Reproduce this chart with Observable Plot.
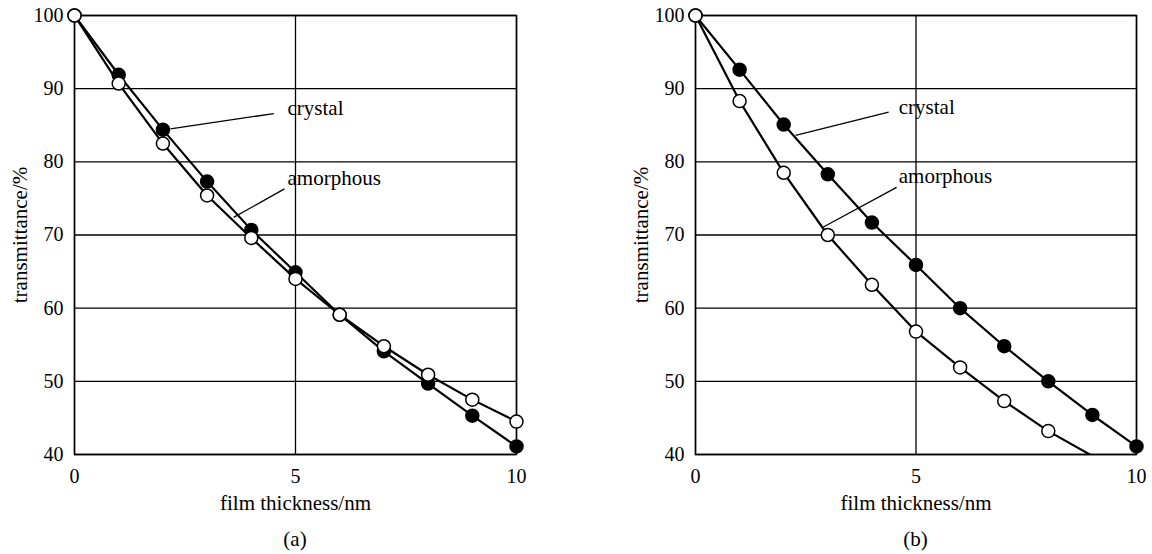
<!DOCTYPE html>
<html><head><meta charset="utf-8">
<script src="https://cdn.jsdelivr.net/npm/d3@7"></script>
<script src="https://cdn.jsdelivr.net/npm/@observablehq/plot@0.6"></script>
<style>
body{margin:0;background:#fff;font-family:"Liberation Serif","Times New Roman",serif;}
#row{display:flex;width:1152px;}
.panel{width:576px;}
.cap{font-size:21px;text-align:center;height:34px;line-height:34px;margin-top:2px;color:#000;}
</style></head><body><div id="row"></div>
<script>
const thickness = [0, 1, 2, 3, 4, 5, 6, 7, 8, 9, 10];
const crystalA = [100, 91.9, 84.4, 77.3, 70.7, 64.9, 59.1, 54.1, 49.7, 45.3, 41.1];
const amorphousA = [100, 90.7, 82.5, 75.4, 69.6, 64.0, 59.1, 54.8, 50.9, 47.5, 44.5];
const crystalB = [100, 92.6, 85.1, 78.3, 71.7, 65.9, 60.0, 54.8, 50.0, 45.4, 41.1];
const amorphousB = [100, 88.3, 78.5, 70.0, 63.2, 56.8, 51.9, 47.3, 43.2, 39.8];
const xTicks = [0, 5, 10];
const yTicks = [40, 50, 60, 70, 80, 90, 100];
const panelLabels = ["(a)", "(b)"];
const seriesNames = ["crystal", "amorphous"];
const xLabel = "film thickness/nm";
const yLabel = "transmittance/%";
// annotation text anchors (data units) and leader lines [x1, y1, x2, y2]
const labelPosA = [[4.82, 87.3], [4.82, 77.8]];
const leaderA = [[4.51, 86.6, 2.17, 84.5], [4.75, 76.3, 3.6, 72.4]];
const labelPosB = [[4.61, 87.5], [4.61, 78.0]];
const leaderB = [[4.38, 86.8, 2.27, 83.6], [4.56, 76.5, 2.9, 71.1]];

function panel(crys, amor, labelPos, leaders, ml, mr, cap) {
  const crysData = crys.map((v, i) => ({x: thickness[i], y: v}));
  const amorData = amor.map((v, i) => ({x: thickness[i], y: v}));
  const fig = Plot.plot({
    width: 576, height: 520,
    marginTop: 15, marginBottom: 66, marginLeft: ml, marginRight: mr,
    style: {fontFamily: "'Liberation Serif', 'Times New Roman', serif", fontSize: "20px", background: "white", color: "black", overflow: "visible"},
    x: {domain: [0, 10]},
    y: {domain: [40, 100]},
    marks: [
      Plot.ruleY(yTicks, {stroke: "black", strokeWidth: 1.3}),
      Plot.ruleX(xTicks, {stroke: "black", strokeWidth: 1.3}),
      Plot.frame({stroke: "black", strokeWidth: 1.5}),
      Plot.axisX(xTicks, {tickSize: 0, tickPadding: 14, fontSize: 20, label: null}),
      Plot.axisY(yTicks, {tickSize: 0, tickPadding: 11, fontSize: 20, label: null}),
      Plot.text([xLabel], {frameAnchor: "bottom", dy: 49, lineAnchor: "middle", textAnchor: "middle", fontSize: 21}),
      Plot.text([yLabel], {frameAnchor: "left", dx: -54, rotate: -90, lineAnchor: "middle", textAnchor: "middle", fontSize: 21}),
      Plot.link(leaders, {x1: d => d[0], y1: d => d[1], x2: d => d[2], y2: d => d[3], stroke: "black", strokeWidth: 1.3}),
      Plot.text(labelPos, {x: d => d[0], y: d => d[1], text: (d, i) => seriesNames[i], textAnchor: "start", fontSize: 21}),
      Plot.line(crysData, {x: "x", y: "y", stroke: "black", strokeWidth: 2.2, clip: true}),
      Plot.line(amorData, {x: "x", y: "y", stroke: "black", strokeWidth: 2.2, clip: true}),
      Plot.dot(crysData, {x: "x", y: "y", r: 6.5, fill: "black", stroke: "black", strokeWidth: 1.5}),
      Plot.dot(amorData.filter(d => d.y >= 40), {x: "x", y: "y", r: 6.5, fill: "white", stroke: "black", strokeWidth: 1.5})
    ]
  });
  const div = document.createElement("div");
  div.className = "panel";
  div.appendChild(fig);
  const c = document.createElement("div");
  c.className = "cap";
  c.style.paddingLeft = ml + "px";
  c.style.paddingRight = mr + "px";
  c.textContent = cap;
  div.appendChild(c);
  document.getElementById("row").appendChild(div);
}
panel(crystalA, amorphousA, labelPosA, leaderA, 74, 60, panelLabels[0]);
panel(crystalB, amorphousB, labelPosB, leaderB, 119, 16, panelLabels[1]);
</script>
</body></html>
